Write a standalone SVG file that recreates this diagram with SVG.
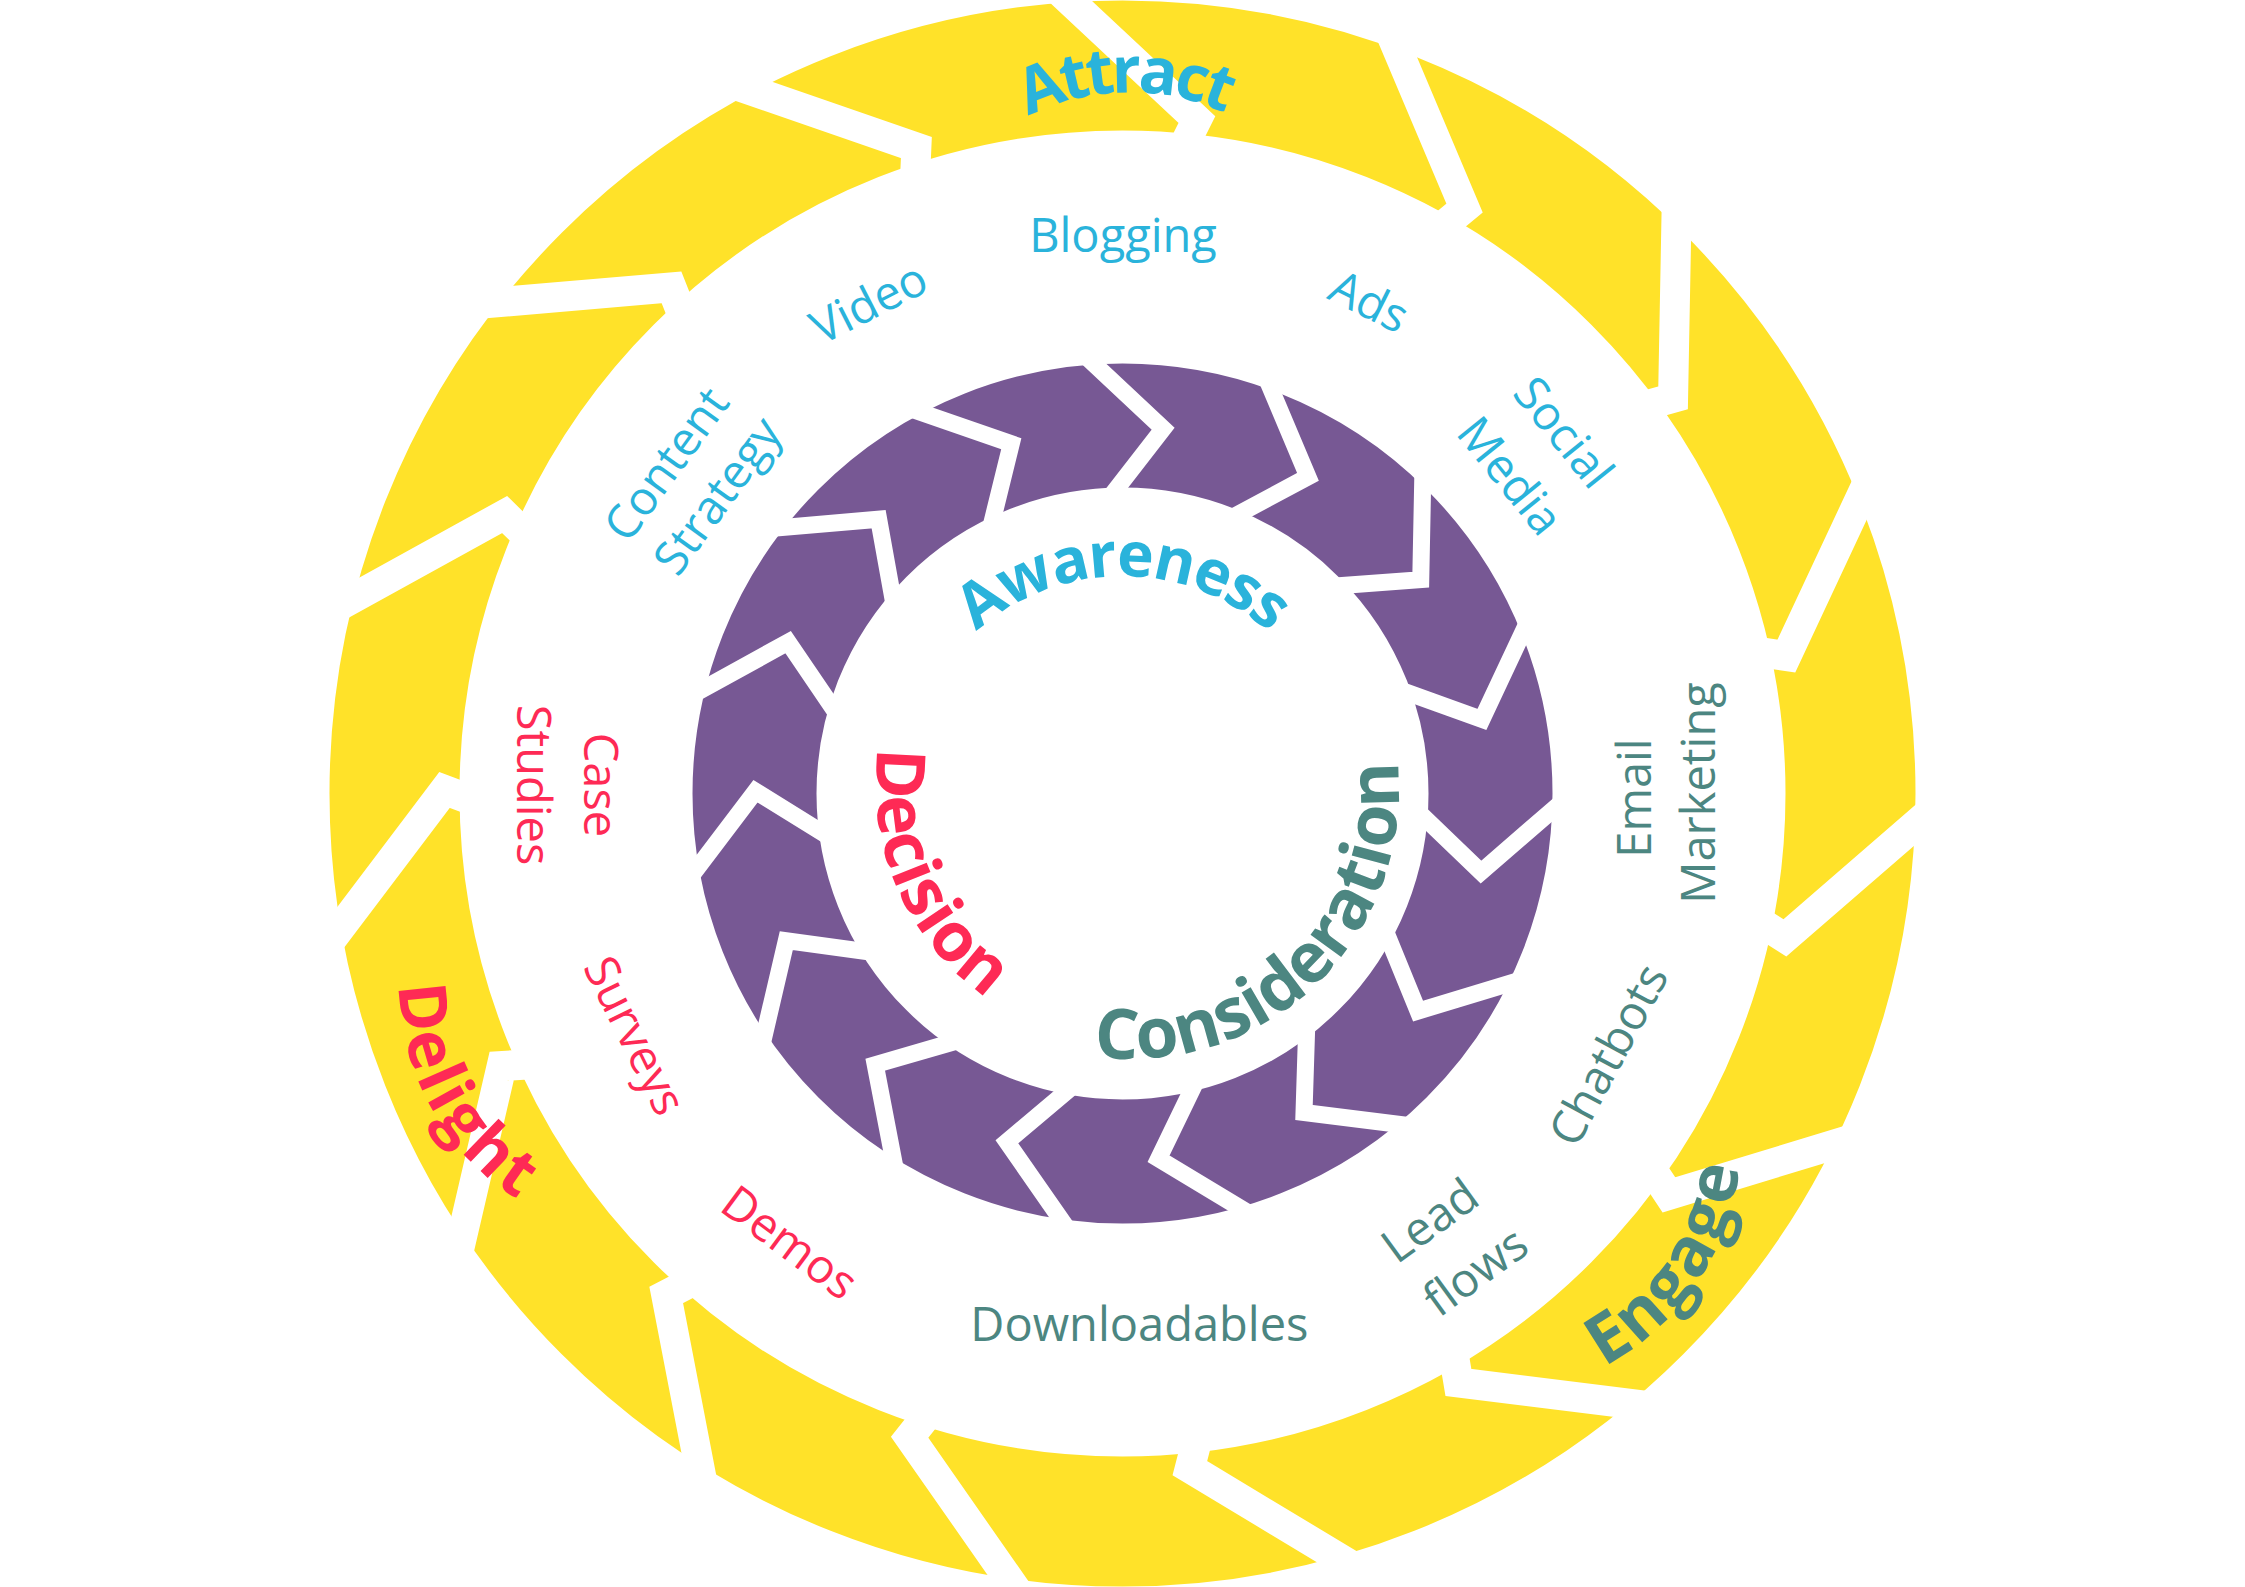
<svg xmlns="http://www.w3.org/2000/svg" xmlns:xlink="http://www.w3.org/1999/xlink" width="2245" height="1587" viewBox="0 0 2245 1587">
<style>
.lbl{font-family:"Open Sans","Liberation Sans",sans-serif;font-size:47px;text-anchor:middle}
.big{font-family:"Open Sans","Liberation Sans",sans-serif;font-weight:bold;text-anchor:middle}
.cy{fill:#2AB3DB}.rd{fill:#FE2A55}.tl{fill:#4C8681}
.yg{fill:none;stroke:#fff;stroke-width:30;stroke-linejoin:miter}
.pg{fill:none;stroke:#fff;stroke-width:17;stroke-linejoin:miter}
</style>
<defs>
<path id="ygap" d="M1049.4 -18.3 L1196.9 119.6 L1174.6 164.4"/>
<path id="pgap" d="M1076.2 347.3 L1163.15 428.76 L1102.2 507.3"/>
<path id="arcAttract" d="M901.13 327.59 A229 229 0 0 1 1358.87 312.41"/>
<path id="arcAwareness" d="M903.5 795 A219 219 0 0 1 1341.5 795"/>
<path id="arcConsideration" d="M943.16 982.16 A268 268 0 0 0 1320.84 601.84"/>
<path id="arcDecision" d="M1028.42 547.85 A260 260 0 0 0 1241.58 1022.15"/>
<path id="arcDelight" d="M520.7 769.14 A253 253 0 0 0 781.3 1202.86"/>
<path id="arcEngage" d="M1341.6 1354.14 A258 258 0 0 0 1626.4 923.86"/>
</defs>
<rect width="2245" height="1587" fill="#fff"/>
<g id="outer-ring">
<circle cx="1122.5" cy="793.5" r="728" fill="none" stroke="#FFE229" stroke-width="130"/>
<use xlink:href="#ygap" class="yg"/>
<use xlink:href="#ygap" class="yg" transform="rotate(24 1122.5 793.5)"/>
<use xlink:href="#ygap" class="yg" transform="rotate(48 1122.5 793.5)"/>
<use xlink:href="#ygap" class="yg" transform="rotate(72 1122.5 793.5)"/>
<use xlink:href="#ygap" class="yg" transform="rotate(96 1122.5 793.5)"/>
<use xlink:href="#ygap" class="yg" transform="rotate(120 1122.5 793.5)"/>
<use xlink:href="#ygap" class="yg" transform="rotate(144 1122.5 793.5)"/>
<use xlink:href="#ygap" class="yg" transform="rotate(168 1122.5 793.5)"/>
<use xlink:href="#ygap" class="yg" transform="rotate(192 1122.5 793.5)"/>
<use xlink:href="#ygap" class="yg" transform="rotate(216 1122.5 793.5)"/>
<use xlink:href="#ygap" class="yg" transform="rotate(240 1122.5 793.5)"/>
<use xlink:href="#ygap" class="yg" transform="rotate(264 1122.5 793.5)"/>
<use xlink:href="#ygap" class="yg" transform="rotate(288 1122.5 793.5)"/>
<use xlink:href="#ygap" class="yg" transform="rotate(312 1122.5 793.5)"/>
<use xlink:href="#ygap" class="yg" transform="rotate(336 1122.5 793.5)"/>
</g>
<g id="inner-ring">
<circle cx="1122.5" cy="793.5" r="368" fill="none" stroke="#775894" stroke-width="124"/>
<use xlink:href="#pgap" class="pg"/>
<use xlink:href="#pgap" class="pg" transform="rotate(24 1122.5 793.5)"/>
<use xlink:href="#pgap" class="pg" transform="rotate(48 1122.5 793.5)"/>
<use xlink:href="#pgap" class="pg" transform="rotate(72 1122.5 793.5)"/>
<use xlink:href="#pgap" class="pg" transform="rotate(96 1122.5 793.5)"/>
<use xlink:href="#pgap" class="pg" transform="rotate(120 1122.5 793.5)"/>
<use xlink:href="#pgap" class="pg" transform="rotate(144 1122.5 793.5)"/>
<use xlink:href="#pgap" class="pg" transform="rotate(168 1122.5 793.5)"/>
<use xlink:href="#pgap" class="pg" transform="rotate(192 1122.5 793.5)"/>
<use xlink:href="#pgap" class="pg" transform="rotate(216 1122.5 793.5)"/>
<use xlink:href="#pgap" class="pg" transform="rotate(240 1122.5 793.5)"/>
<use xlink:href="#pgap" class="pg" transform="rotate(264 1122.5 793.5)"/>
<use xlink:href="#pgap" class="pg" transform="rotate(288 1122.5 793.5)"/>
<use xlink:href="#pgap" class="pg" transform="rotate(312 1122.5 793.5)"/>
<use xlink:href="#pgap" class="pg" transform="rotate(336 1122.5 793.5)"/>
</g>
<g id="attract"><text class="big cy" font-size="64" letter-spacing="-4"><textPath xlink:href="#arcAttract" startOffset="50.3%">Attract</textPath></text></g>
<g id="awareness"><text class="big cy" font-size="62" letter-spacing="-2"><textPath xlink:href="#arcAwareness" startOffset="50%">Awareness</textPath></text></g>
<g id="consideration"><text class="big tl" font-size="69.5"><textPath xlink:href="#arcConsideration" startOffset="49.4%">Consideration</textPath></text></g>
<g id="decision"><text class="big rd" font-size="68"><textPath xlink:href="#arcDecision" startOffset="49.6%">Decision</textPath></text></g>
<g id="delight"><text class="big rd" font-size="66" letter-spacing="3"><textPath xlink:href="#arcDelight" startOffset="49%">Delight</textPath></text></g>
<g id="engage"><text class="big tl" font-size="68" letter-spacing="2"><textPath xlink:href="#arcEngage" startOffset="49.7%">Engage</textPath></text></g>
<g id="blogging"><text class="lbl cy" x="1123" y="252">Blogging</text></g>
<g id="video"><text class="lbl cy" transform="translate(868 301.5) rotate(-27)" y="18">Video</text></g>
<g id="ads"><text class="lbl cy" transform="translate(1370 300) rotate(26.6)" y="18">Ads</text></g>
<g id="content-strategy" transform="translate(693.7 481.5) rotate(-54)"><text class="lbl cy" x="-2" y="-16">Content</text><text class="lbl cy" x="2.5" y="44">Strategy</text></g>
<g id="social-media" transform="translate(1537.8 453.5) rotate(51)"><text class="lbl cy" y="-17">Social</text><text class="lbl cy" y="52">Media</text></g>
<g id="case-studies" transform="translate(568 785) rotate(90)"><text class="lbl rd" y="-16">Case</text><text class="lbl rd" y="51">Studies</text></g>
<g id="email-marketing" transform="translate(1667 796) rotate(-90)"><text class="lbl tl" x="-2" y="-16.4">Email</text><text class="lbl tl" x="3" y="48.4">Marketing</text></g>
<g id="chatbots"><text class="lbl tl" transform="translate(1607 1054) rotate(-61.8)" y="18">Chatbots</text></g>
<g id="lead-flows" transform="translate(1451.75 1244.75) rotate(-36)"><text class="lbl tl" x="-3.5" y="-16">Lead</text><text class="lbl tl" x="3.5" y="52">flows</text></g>
<g id="downloadables"><text class="lbl tl" x="1139.4" y="1341">Downloadables</text></g>
<g id="demos"><text class="lbl rd" transform="translate(790 1242) rotate(36.6)" y="17">Demos</text></g>
<g id="surveys"><text class="lbl rd" transform="translate(630 1038) rotate(63.6)" y="11">Surveys</text></g>
</svg>
